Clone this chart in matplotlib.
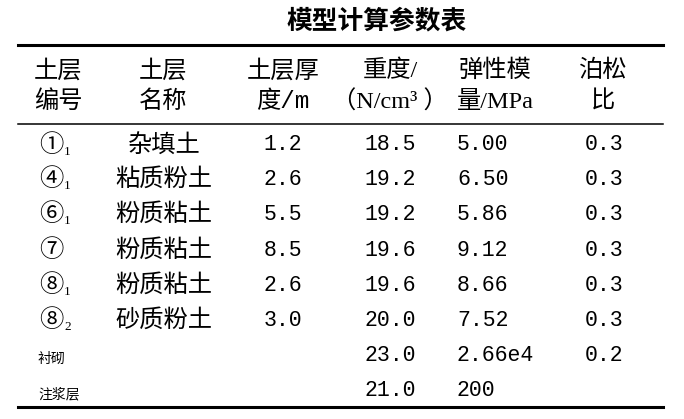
import matplotlib.pyplot as plt
from matplotlib.lines import Line2D

# table content
title = "模型计算参数表"
header_top = ["土层", "土层", "土层厚", "重度/", "弹性模", "泊松"]
header_bot = ["编号", "名称", "度/m", "（N/cm³ ）", "量/MPa", "比"]

layer_ids = ["①", "④", "⑥", "⑦", "⑧", "⑧", "", ""]
layer_subs = ["1", "1", "1", "", "1", "2", "", ""]
layer_names = ["杂填土", "粘质粉土", "粉质粘土", "粉质粘土", "粉质粘土", "砂质粉土", "衬砌", "注浆层"]
thickness = ["1.2", "2.6", "5.5", "8.5", "2.6", "3.0", "", ""]
unit_weight = ["18.5", "19.2", "19.2", "19.6", "19.6", "20.0", "23.0", "21.0"]
modulus = ["5.00", "6.50", "5.86", "9.12", "8.66", "7.52", "2.66e4", "200"]
poisson = ["0.3", "0.3", "0.3", "0.3", "0.3", "0.3", "0.2", ""]

W, H = 684, 419
fig = plt.figure(figsize=(W / 100, H / 100), dpi=100)
fig.patch.set_facecolor("white")

cjk = ["Noto Sans CJK SC", "DejaVu Sans"]
mixed = ["Liberation Serif", "Noto Sans CJK SC"]
mono = ["Liberation Mono", "Noto Sans CJK SC"]


def px(x, y):
    return x / W, 1 - y / H


def put(x, y, s, size=17.5, family=cjk, ha="center", **kw):
    fig.text(*px(x, y), s, fontsize=size, family=family, ha=ha, va="center", **kw)


def hline(y, lw):
    x0, y0 = px(18, y)
    x1, _ = px(663, y)
    fig.add_artist(Line2D([x0, x1], [y0, y0], color="black", lw=lw, transform=fig.transFigure))


put(377, 21, title, size=18.5, fontweight="bold")
hline(45, 2.2)
hline(124, 1.1)
hline(407, 2.2)

col_x = [58, 163, 283, 390, 495, 603]
for i, (t, b) in enumerate(zip(header_top, header_bot)):
    put(col_x[i], 71, t, family=mixed)
    put(col_x[i], 102, b, family=mono if i == 2 else mixed)

row_y = [145, 179, 214, 250, 285, 320, 355, 390]
for r, y in enumerate(row_y):
    if layer_ids[r]:
        put(39, y, layer_ids[r], ha="left")
        if layer_subs[r]:
            put(64, y + 7, layer_subs[r], size=9.5, family=["Liberation Serif"], ha="left")
        put(164, y, layer_names[r])
    else:
        # lining / grout rows use a small label at the left
        put(38, y + 4, layer_names[r], size=10, ha="left")
    put(283, y, thickness[r], size=15.5, family=mono)
    put(390, y, unit_weight[r], size=15.5, family=mono)
    put(457, y, modulus[r], size=15.5, family=mono, ha="left")
    put(604, y, poisson[r], size=15.5, family=mono)

fig.savefig("out.png", dpi=100)
